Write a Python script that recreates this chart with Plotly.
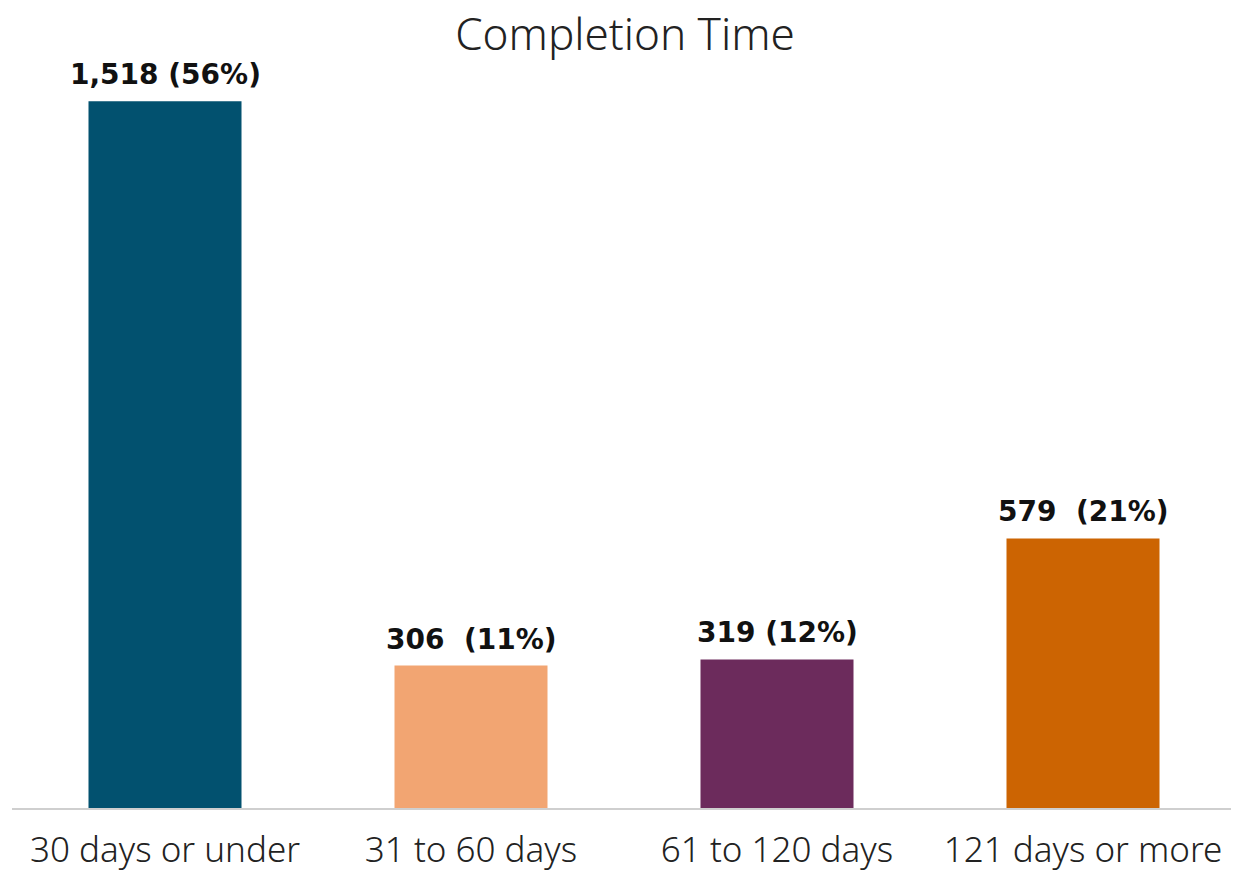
import plotly.graph_objects as go

categories = ["30 days or under", "31 to 60 days", "61 to 120 days", "121 days or more"]
counts = [1518, 306, 319, 579]
labels = ["1,518 (56%)", "306  (11%)", "319 (12%)", "579  (21%)"]
colors = ["#02516f", "#f2a572", "#6c2b5c", "#cc6402"]

fig = go.Figure(go.Bar(
    x=categories, y=counts,
    marker=dict(color=colors, line=dict(width=0)),
    cliponaxis=False, width=0.5,
))
for cat, val, lab in zip(categories, counts, labels):
    fig.add_annotation(x=cat, y=val, text=lab, showarrow=False, yanchor="bottom", yshift=8,
                       font=dict(family="DejaVu Sans", size=28, color="#111111", weight="bold"))
fig.update_layout(
    width=1239, height=873,
    margin=dict(l=4, r=11, t=55, b=73),
    paper_bgcolor="white", plot_bgcolor="white",
    title=dict(text="Completion Time", x=0.498, xanchor="center", y=0.97, yanchor="middle",
               font=dict(family="Noto Sans", size=44, color="#222222", weight=300)),
    showlegend=False,
    bargap=0.5,
)
fig.update_xaxes(showline=True, linecolor="#cfcfcf", linewidth=2, ticks="", automargin=False,
                 ticklabelstandoff=10,
                 tickfont=dict(family="Noto Sans", size=35, color="#222222", weight=300))
fig.update_yaxes(visible=False, range=[0, 1600], showgrid=False, automargin=False)
fig.write_html("out.html")
